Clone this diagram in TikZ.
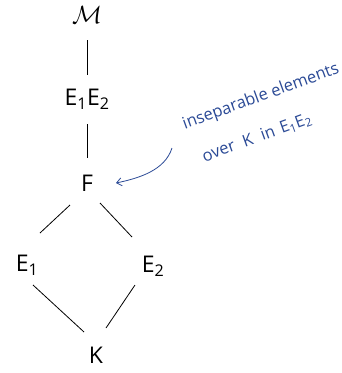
\documentclass[tikz,border=0pt]{standalone}
\usepackage{fontspec}
\setmainfont{Open Sans}
\usetikzlibrary{arrows.meta}
\begin{document}
\begin{tikzpicture}[x=1pt,y=-1pt,
  lbl/.style={font=\fontsize{23}{26}\selectfont, inner sep=1pt},
  edge/.style={line width=0.8pt, black},
  note/.style={font=\fontsize{16.5}{19}\selectfont, text=inkblue, rotate=20, inner sep=0pt},
]
\definecolor{inkblue}{HTML}{2B4A96}
\useasboundingbox (0,0) rectangle (341,373);
\node[lbl] (M) at (87,15) {\fontsize{28}{30}\selectfont$\mathcal{M}$};
\node[lbl] (E12) at (87,99) {E\textsubscript{1}E\textsubscript{2}};
\node[lbl] (F) at (87,183) {F};
\node[lbl] (E1) at (27,265) {E\textsubscript{1}};
\node[lbl] (E2) at (153,266) {E\textsubscript{2}};
\node[lbl] (K) at (96,355) {K};
\draw[edge] (87,40) -- (87,75);
\draw[edge] (87,124) -- (87,158);
\draw[edge] (70,205) -- (40,233);
\draw[edge] (100,203) -- (132,237);
\draw[edge] (33,285) -- (84,332);
\draw[edge] (135,285) -- (106,328);
\node[note] (n1) at (261,97) {inseparable elements};
\node[note] (n2) at (257,138) {over\hspace{9pt}K\hspace{9pt}in\hspace{6pt}E\textsubscript{1}E\textsubscript{2}};
\coordinate (a0) at (172,148);
\draw[inkblue, line width=0.8pt, -{Straight Barb[length=5pt,width=8pt]}]
  (a0) .. controls (165,170) and (140,178) .. (116,183);
\end{tikzpicture}
\end{document}
